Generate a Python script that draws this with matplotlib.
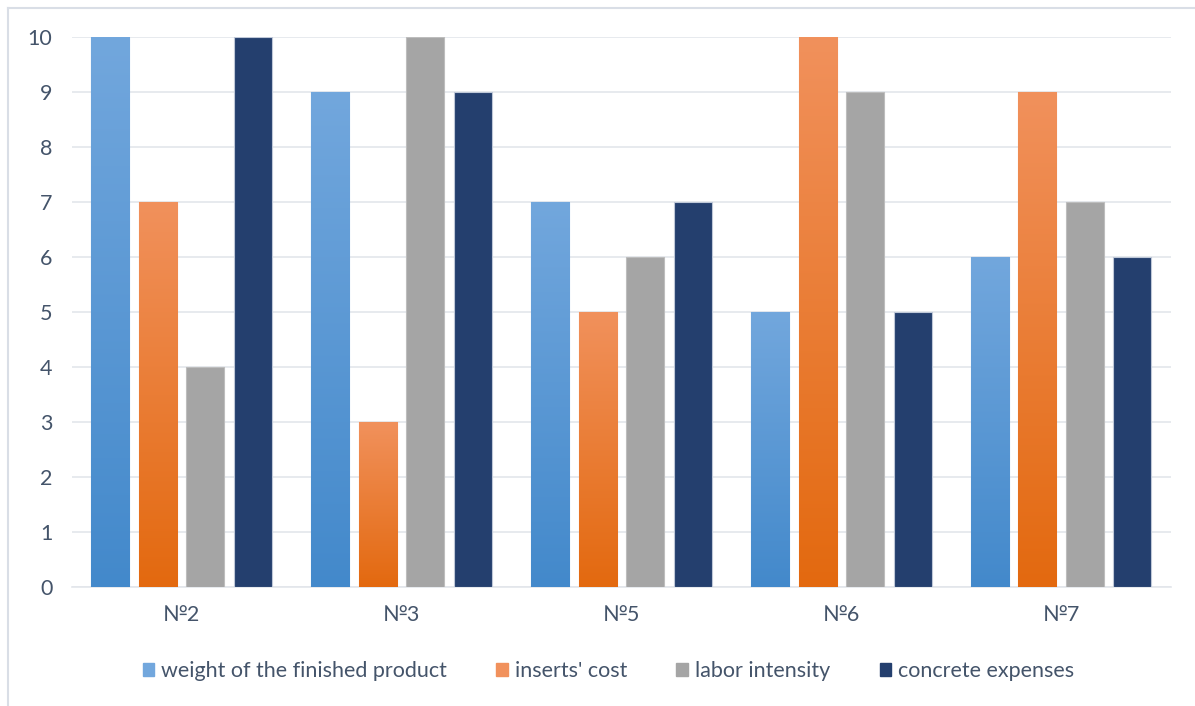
import matplotlib
matplotlib.use("Agg")
import numpy as np
import matplotlib.pyplot as plt
from matplotlib.colors import LinearSegmentedColormap

categories = ["№2", "№3", "№5", "№6", "№7"]
weight = [10, 9, 7, 5, 6]
inserts = [7, 3, 5, 10, 9]
labor = [4, 10, 6, 9, 7]
concrete = [10, 9, 7, 5, 6]
series_names = ["weight of the finished product", "inserts' cost",
                "labor intensity", "concrete expenses"]

# (top colour, bottom colour) per series; gray/navy are flat
grads = [("#72A7DD", "#4389CB"), ("#F1915C", "#E3690F"),
         ("#A5A5A5", "#A5A5A5"), ("#243F6E", "#243F6E")]
edges = ["#7FB0E0", "#F3A274", "#BDBDBD", "#BFC8D8"]
TEXT = "#44546A"

plt.rcParams["font.family"] = ["Lato", "DejaVu Sans"]

fig = plt.figure(figsize=(11.95, 7.06), dpi=100)
ax = fig.add_axes([0.060, 0.169, 0.920, 0.778])

x = np.arange(len(categories))
w = 0.173
step = 0.216
values = [weight, inserts, labor, concrete]
for i, vals in enumerate(values):
    pos = x + (i - 1.5) * step
    top, bot = grads[i]
    cmap = LinearSegmentedColormap.from_list(f"g{i}", [bot, top])
    bars = ax.bar(pos, vals, w, color=top, edgecolor=edges[i], linewidth=0.8,
                  label=series_names[i], zorder=3)
    if top != bot:
        for b in bars:
            x0, h = b.get_x(), b.get_height()
            grad = np.linspace(0, 1, 256).reshape(-1, 1)
            im = ax.imshow(grad, cmap=cmap, origin="lower", aspect="auto",
                           extent=(x0, x0 + w, 0, h), zorder=3.5)
            im.set_clip_path(b)

ax.set_xlim(-0.5, len(categories) - 0.5)
ax.set_ylim(0, 10)
ax.set_yticks(range(0, 11))
ax.yaxis.grid(True, color="#E3E6EB", linewidth=1.2, zorder=0)
ax.set_axisbelow(True)
for s in ["top", "right", "left"]:
    ax.spines[s].set_visible(False)
ax.spines["bottom"].set_color("#E3E6EB")
ax.spines["bottom"].set_linewidth(1.2)
ax.tick_params(axis="both", length=0, labelsize=15.5, colors=TEXT)
ax.tick_params(axis="y", pad=14)
ax.set_xticks(x)
ax.set_xticklabels(categories)
ax.tick_params(axis="x", pad=13)

handles = [plt.Rectangle((0, 0), 1, 1, color=grads[i][0]) for i in range(4)]
fig.legend(handles, series_names, loc="center", bbox_to_anchor=(0.509, 0.049),
           ncol=4, frameon=False, fontsize=15.5, handlelength=0.55, handleheight=0.55,
           handletextpad=0.3, columnspacing=2.3, labelcolor=TEXT)

# light chart-area frame (left and top edges visible)
fig.add_artist(plt.Line2D([0.0067, 0.0067], [0.0, 0.989], color="#D9DEE6",
                          linewidth=1.5, transform=fig.transFigure))
fig.add_artist(plt.Line2D([0.0067, 1.0], [0.989, 0.989], color="#D9DEE6",
                          linewidth=1.5, transform=fig.transFigure))

fig.savefig("out.png", dpi=100)
